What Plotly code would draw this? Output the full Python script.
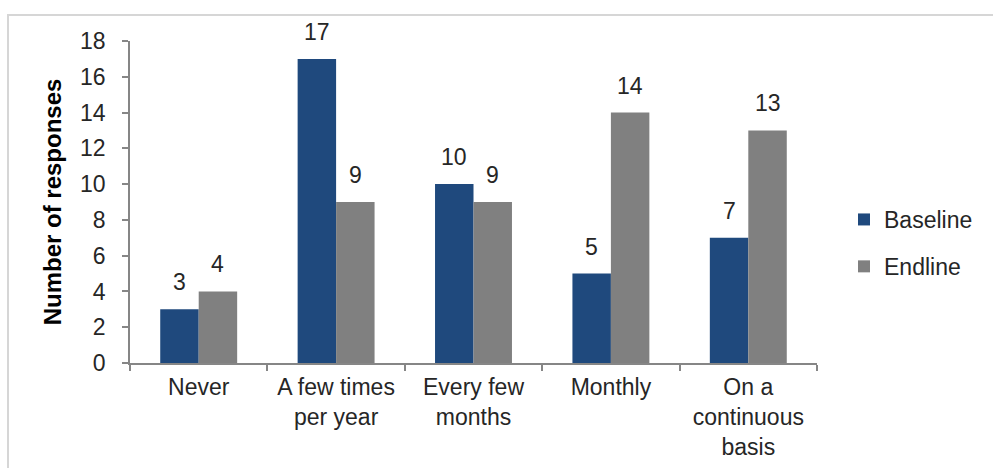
import plotly.graph_objects as go

categories = ["Never", "A few times<br>per year", "Every few<br>months", "Monthly",
              "On a<br>continuous<br>basis"]
baseline = [3, 17, 10, 5, 7]
endline = [4, 9, 9, 14, 13]
y_ticks = [0, 2, 4, 6, 8, 10, 12, 14, 16, 18]

FONT = "Liberation Sans, Arial, sans-serif"
TEXT = "#262626"

W, H = 993, 468
L, R, T, B = 130, 176, 41, 105
pw, ph = W - L - R, H - T - B
BARGAP = 0.44
# half width of one bar in pixels, used to centre value labels over each bar
half_bar = pw / len(categories) * (1 - BARGAP) / 4

fig = go.Figure()
fig.add_trace(go.Bar(
    x=categories, y=baseline, name="Baseline", legendgroup="a",
    marker=dict(color="#1F497D", line=dict(width=0)),
))
fig.add_trace(go.Bar(
    x=categories, y=endline, name="Endline", legendgroup="b",
    marker=dict(color="#808080", line=dict(width=0)),
))

# value labels above each bar
for series, sign in ((baseline, -1), (endline, 1)):
    for cat, val in zip(categories, series):
        fig.add_annotation(x=cat, y=val, text=str(val), showarrow=False,
                           xanchor="center", yanchor="middle",
                           xshift=sign * half_bar, yshift=27,
                           font=dict(size=23, color=TEXT, family=FONT))

# light chart-area border
fig.add_shape(type="rect", xref="paper", yref="paper",
              x0=(8 - L) / pw, x1=(W + 10 - L) / pw,
              y0=-(H + 10 - T - ph) / ph, y1=(T + ph - 15) / ph,
              line=dict(color="#d6d6d6", width=2), fillcolor="rgba(0,0,0,0)",
              layer="below")

fig.update_layout(
    width=W, height=H,
    margin=dict(l=L, r=R, t=T, b=B, autoexpand=False),
    paper_bgcolor="white", plot_bgcolor="white",
    barmode="group", bargap=BARGAP, bargroupgap=0,
    font=dict(family=FONT, size=23, color=TEXT),
    showlegend=True,
    legend=dict(x=(844 - L) / pw, y=(T + ph - 198) / ph, xanchor="left", yanchor="top",
                font=dict(size=23, color=TEXT, family=FONT),
                traceorder="grouped", tracegroupgap=14,
                bgcolor="rgba(0,0,0,0)"),
    xaxis=dict(showline=True, linecolor="#868686", linewidth=1.5,
               ticks="outside", ticklen=6, tickcolor="#868686", tickwidth=1.5,
               tickson="boundaries", showgrid=False, ticklabelstandoff=3,
               tickfont=dict(size=23, color=TEXT, family=FONT)),
    yaxis=dict(range=[0, 18], tickvals=y_ticks, showline=True, linecolor="#868686",
               linewidth=1.5, ticks="outside", ticklen=6, tickcolor="#868686",
               tickwidth=1.5, showgrid=False, zeroline=False,
               ticklabelstandoff=12,
               tickfont=dict(size=23, color=TEXT, family=FONT),
               title=dict(text="<b>Number of responses</b>", standoff=12,
                          font=dict(size=24, color="#000000", family=FONT))),
)

fig.write_html("out.html")
